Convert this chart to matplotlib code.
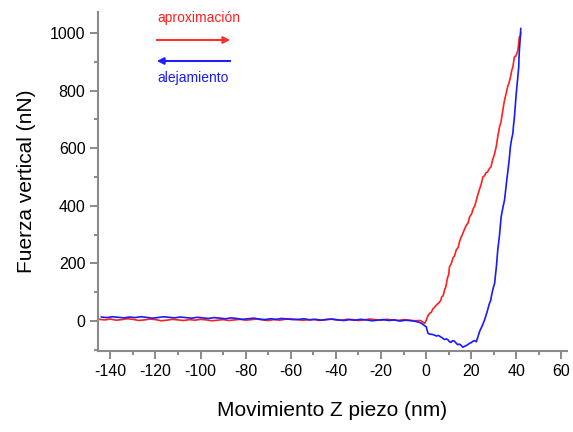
import numpy as np
import matplotlib.pyplot as plt
from matplotlib.ticker import MultipleLocator

plt.rcParams['font.family'] = ['Liberation Sans', 'DejaVu Sans']
plt.rcParams['axes.unicode_minus'] = False

# Datos (nm, nN)
# aproximacion: zona plana
x_aprox_plano = np.arange(-145, -2.5, 2.5)
y_aprox_plano = [6, 4, 7, 3, 5, 8, 6, 2, 4, 7, 5, 1, 3, 6, 4, 2, 5, 3, 6, 4,
                 1, 3, 5, 2, 4, 6, 3, 5, 7, 4, 2, 5, 3, 6, 8, 5, 3, 4, 6, 2,
                 5, 7, 4, 3, 6, 5, 2, 4, 7, 5, 3, 6, 4, 2, 5, 3, 1]
# aproximacion: zona de contacto
x_aprox_cont = [-2.5, -1.5, -0.6, 0.2, 0.8, 1.6, 2.3, 3.0, 3.5, 4.2, 5.3, 5.8,
                6.5, 7.0, 7.6, 8.2, 8.8, 9.5, 10.0, 10.4, 11.2, 12.0, 12.6, 13.4,
                14.2, 15.0, 15.6, 16.3, 17.0, 18.0, 18.6, 19.3, 20.2, 21.0, 21.6,
                22.3, 23.0, 24.0, 24.6, 25.2, 26.0, 26.5, 27.3, 28.1, 28.8, 29.5,
                30.0, 30.4, 31.1, 31.8, 32.6, 33.2, 33.8, 34.3, 34.8, 35.5, 36.2,
                36.9, 37.5, 38.0, 38.5, 39.2, 39.8, 40.3, 40.7, 41.0, 41.4, 41.8,
                42.0]
y_aprox_cont = [2, -3, -8, 5, 18, 27, 30, 42, 45, 52, 61, 64,
                72, 85, 88, 108, 120, 150, 160, 189, 200, 220, 226, 247,
                255, 280, 292, 304, 318, 335, 340, 362, 372, 392, 400,
                420, 440, 465, 480, 501, 505, 515, 518, 530, 535, 560,
                570, 582, 605, 640, 675, 690, 720, 745, 767, 790, 814,
                830, 850, 870, 883, 918, 920, 930, 940, 960, 987, 990,
                1000]

# alejamiento: zona de contacto (de arriba hacia abajo)
x_alej_cont = [42.0, 41.8, 41.4, 41.2, 41.1, 40.6, 40.0, 39.6, 39.2, 38.8, 38.5,
               37.9, 37.4, 37.0, 36.5, 35.8, 35.3, 34.8, 34.1, 33.3, 32.6, 31.8,
               31.2, 30.4, 29.8, 29.2, 28.6, 28.1, 27.0, 25.9, 25.0, 23.7, 23.0,
               22.3, 21.5, 20.8, 20.0, 19.3, 18.5, 17.8, 17.0, 16.3, 15.5, 14.8,
               14.0, 13.4, 12.6, 11.8, 11.0, 10.4, 9.7, 9.0, 8.2, 7.5, 6.5,
               5.5, 4.6, 3.8, 3.0, 2.2, 1.5, 0.9, 0.4, 0.1, -1.0, -2.0,
               -3.2, -4.3, -5.4]
y_alej_cont = [1016, 985, 941, 910, 883, 840, 791, 750, 709, 680, 652,
               630, 605, 570, 535, 490, 455, 420, 395, 362, 300, 247,
               190, 131, 115, 95, 70, 61, 30, 3, -15, -37, -55,
               -72, -68, -70, -75, -77, -82, -85, -88, -91, -84, -80,
               -82, -77, -70, -68, -74, -72, -65, -62, -64, -60, -55,
               -50, -52, -49, -47, -46, -45, -43, -30, -20, -14, -8,
               -4, -2, 0]
# alejamiento: zona plana
x_alej_plano = np.arange(-6.5, -146, -2.5)
y_alej_plano = [1, 3, 0, 4, 2, 5, 3, 1, 4, 6, 3, 5, 2, 4, 7, 5, 3, 6, 4, 8,
                6, 5, 7, 9, 6, 8, 5, 7, 10, 8, 6, 9, 11, 8, 10, 12, 9, 11, 13, 10,
                12, 14, 11, 13, 15, 12, 10, 13, 15, 12, 14, 11, 13, 15, 12, 14]

x_aprox = np.concatenate([x_aprox_plano, x_aprox_cont])
y_aprox = np.concatenate([y_aprox_plano, y_aprox_cont])
x_alej = np.concatenate([x_alej_cont, x_alej_plano])
y_alej = np.concatenate([y_alej_cont, y_alej_plano[:len(x_alej_plano)]])

fig = plt.figure(figsize=(5.73, 4.32), dpi=100)
ax = fig.add_axes([0.171, 0.1875, 0.8185, 0.7845])

ax.plot(x_aprox, y_aprox, color='#ff2020', lw=1.2)
ax.plot(x_alej, y_alej, color='#1a1aff', lw=1.2)

ax.set_xlim(-145.5, 62.5)
ax.set_ylim(-104, 1073)
ax.xaxis.set_major_locator(MultipleLocator(20))
ax.xaxis.set_minor_locator(MultipleLocator(10))
ax.yaxis.set_major_locator(MultipleLocator(200))
ax.yaxis.set_minor_locator(MultipleLocator(100))

for s in ['top', 'right']:
    ax.spines[s].set_visible(False)
for s in ['left', 'bottom']:
    ax.spines[s].set_color('#8a8a8a')
    ax.spines[s].set_linewidth(1.5)
ax.tick_params(which='major', length=6, width=1.2, color='#777777',
               labelsize=11.5, pad=3)
ax.tick_params(which='minor', length=3, width=1.2, color='#777777')

ax.set_xlabel('Movimiento Z piezo (nm)', fontsize=15, labelpad=16)
ax.set_ylabel('Fuerza vertical (nN)', fontsize=15, labelpad=10)

# leyenda con flechas
fig.text(157 / 573, 1 - 18 / 432, 'aproximación', color='#ff2020',
         fontsize=10, va='center', ha='left')
fig.text(157 / 573, 1 - 78 / 432, 'alejamiento', color='#1a1aff',
         fontsize=10, va='center', ha='left')
ax.annotate('', xy=(233 / 573, 1 - 40 / 432), xytext=(154 / 573, 1 - 40 / 432),
            xycoords='figure fraction', textcoords='figure fraction',
            arrowprops=dict(arrowstyle='-|>', color='#ff3030', lw=1.5,
                            mutation_scale=10))
ax.annotate('', xy=(154 / 573, 1 - 61 / 432), xytext=(233 / 573, 1 - 61 / 432),
            xycoords='figure fraction', textcoords='figure fraction',
            arrowprops=dict(arrowstyle='-|>', color='#2020ff', lw=1.5,
                            mutation_scale=10))

fig.savefig('out.png', dpi=100)
